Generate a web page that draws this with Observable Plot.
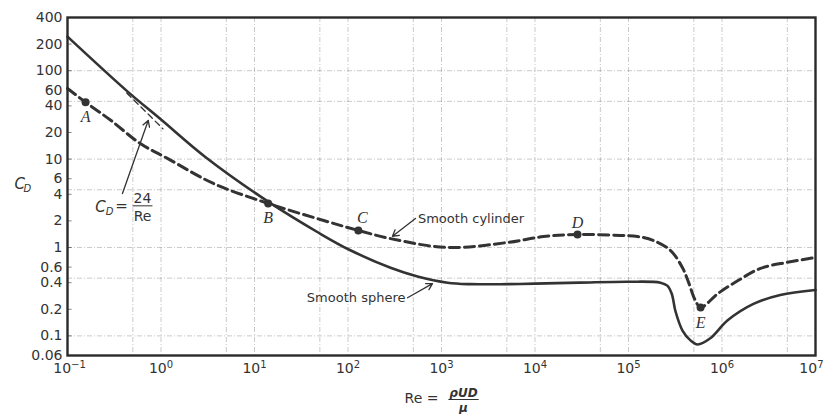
<!DOCTYPE html>
<html>
<head>
<meta charset="utf-8">
<script src="https://cdn.jsdelivr.net/npm/d3@7"></script>
<script src="https://cdn.jsdelivr.net/npm/@observablehq/plot@0.6"></script>
<style>
  html, body { margin: 0; padding: 0; background: #fff; }
</style>
</head>
<body>
<div id="chart"></div>
<script>
// ---- data ----
const xTicks = [0.1, 1, 10, 100, 1e3, 1e4, 1e5, 1e6, 1e7];
const yTicks = [400, 200, 100, 60, 40, 20, 10, 6, 4, 2, 1, 0.6, 0.4, 0.2, 0.1, 0.06];
const xGrid = [0.5, 1, 5, 10, 50, 100, 500, 1e3, 5e3, 1e4, 5e4, 1e5, 5e5, 1e6, 5e6];
const yGrid = [100, 45, 10, 4.5, 1, 0.45, 0.1];

const cylinderRe = [0.1, 0.156, 0.29, 0.6, 1.17, 3.64, 14, 55, 129, 285, 1160, 5080, 12300, 28500, 82000, 125000, 185000, 280000, 378000, 440000, 520000, 590000, 900000, 1470000, 2580000, 5000000, 1e7];
const cylinderCd = [63, 44, 27.5, 15, 10.2, 5.3, 3.15, 2.02, 1.56, 1.26, 1.0, 1.14, 1.33, 1.40, 1.37, 1.33, 1.2, 0.93, 0.59, 0.40, 0.25, 0.21, 0.30, 0.42, 0.58, 0.68, 0.77];

const sphereRe = [0.1, 0.44, 1, 3, 14, 50, 106, 285, 554, 1160, 2000, 5000, 1e4, 3e4, 1e5, 2.2e5, 2.6e5, 2.9e5, 3.18e5, 3.78e5, 4.6e5, 5.47e5, 7.5e5, 1.15e6, 2.17e6, 4.2e6, 1e7];
const sphereCd = [243, 58, 28, 10.5, 3.3, 1.44, 0.93, 0.59, 0.47, 0.40, 0.385, 0.385, 0.39, 0.40, 0.41, 0.40, 0.37, 0.30, 0.19, 0.115, 0.089, 0.08, 0.094, 0.15, 0.23, 0.29, 0.33];

const stokesRe = [0.43, 1.05];
const stokesCd = [56, 22];

const pointLabels = ["A", "B", "C", "D", "E"];
const pointRe = [0.156, 14, 129, 28500, 590000];
const pointCd = [44, 3.15, 1.56, 1.40, 0.21];

// annotation pointers: tail (Re, CD) -> head (Re, CD)
const pointerNames = ["formula", "cylinder", "sphere"];
const pointerRe1 = [0.387, 527, 433];
const pointerCd1 = [4.08, 2.13, 0.27];
const pointerRe2 = [0.73, 299, 801];
const pointerCd2 = [27.4, 1.34, 0.39];

const curveLabels = ["Smooth cylinder", "Smooth sphere"];
const curveLabelRe = [560, 412];
const curveLabelCd = [2.13, 0.27];

const formulaAnchorRe = 0.634;
const formulaAnchorCd = 2.92;

// ---- build tables ----
const cylinder = cylinderRe.map((re, i) => ({re, cd: cylinderCd[i]}));
const sphere = sphereRe.map((re, i) => ({re, cd: sphereCd[i]}));
const stokes = stokesRe.map((re, i) => ({re, cd: stokesCd[i]}));
const points = pointLabels.map((label, i) => ({label, re: pointRe[i], cd: pointCd[i]}));
const pointers = pointerNames.map((name, i) => ({name, x1: pointerRe1[i], y1: pointerCd1[i], x2: pointerRe2[i], y2: pointerCd2[i]}));
const labels = curveLabels.map((text, i) => ({text, re: curveLabelRe[i], cd: curveLabelCd[i]}));
const formula = [{re: formulaAnchorRe, cd: formulaAnchorCd}];

const ink = "#333";
const gridStyle = {stroke: "#6a6a6a", strokeWidth: 0.8, strokeDasharray: "5,2,1,2", strokeOpacity: 0.45};
const letterOffsets = {A: [0, 15], B: [0, 14], C: [4, -13], D: [0, -12], E: [0, 15]};
const serif = "Liberation Serif, DejaVu Serif, serif";
const sans = "DejaVu Sans, sans-serif";
const expFormat = d => "10^" + Math.round(Math.log10(d));

const letterMarks = points.map(p => Plot.text([p], {
  x: "re", y: "cd", text: "label",
  dx: letterOffsets[p.label][0], dy: letterOffsets[p.label][1],
  fontFamily: serif, fontStyle: "italic", fontSize: 16, fill: ink
}));

const chart = Plot.plot({
  width: 823,
  height: 414,
  marginLeft: 67,
  marginRight: 8,
  marginTop: 17,
  marginBottom: 59,
  x: {type: "log", domain: [0.1, 1e7], label: null, axis: null},
  y: {type: "log", domain: [0.06, 400], label: null, axis: null},
  style: {fontFamily: sans, fontSize: "14px", color: ink, background: "#fff", overflow: "visible"},
  marks: [
    Plot.ruleX(xGrid, gridStyle),
    Plot.ruleY(yGrid, gridStyle),
    Plot.ruleY(yTicks, {x1: 0.1, x2: 0.112, stroke: ink, strokeOpacity: 0.6}),
    // y tick labels
    Plot.text(yTicks, {y: d => d, frameAnchor: "left", text: d => String(d), textAnchor: "end", dx: -5, fontSize: 14, fill: ink}),
    // x tick labels
    Plot.text(xTicks.slice(0, 1), {x: d => d, frameAnchor: "bottom", text: expFormat, lineAnchor: "top", dx: 2, dy: 8, fontSize: 14, fill: ink}),
    Plot.text(xTicks.slice(1, -1), {x: d => d, frameAnchor: "bottom", text: expFormat, lineAnchor: "top", dy: 8, fontSize: 14, fill: ink}),
    Plot.text(xTicks.slice(-1), {x: d => d, frameAnchor: "bottom", text: expFormat, lineAnchor: "top", textAnchor: "end", dx: 8, dy: 8, fontSize: 14, fill: ink}),
    Plot.line(stokes, {x: "re", y: "cd", stroke: ink, strokeWidth: 1.3, strokeDasharray: "6,4"}),
    Plot.line(cylinder, {x: "re", y: "cd", stroke: ink, strokeWidth: 3, strokeDasharray: "10,5", curve: "catmull-rom"}),
    Plot.line(sphere, {x: "re", y: "cd", stroke: ink, strokeWidth: 2.6, curve: "catmull-rom"}),
    Plot.dot(points, {x: "re", y: "cd", r: 4, fill: ink}),
    ...letterMarks,
    Plot.arrow(pointers, {x1: "x1", y1: "y1", x2: "x2", y2: "y2", stroke: ink, strokeWidth: 1.3, headLength: 8}),
    Plot.text(labels.slice(0, 1), {x: "re", y: "cd", text: "text", textAnchor: "start", fontSize: 13, fill: ink}),
    Plot.text(labels.slice(1), {x: "re", y: "cd", text: "text", textAnchor: "end", fontSize: 13, fill: ink}),
    // C_D = 24 / Re formula
    Plot.text(formula, {x: "re", y: "cd", text: () => "C", dx: -42, dy: 1, fontStyle: "italic", fontSize: 15, fill: ink}),
    Plot.text(formula, {x: "re", y: "cd", text: () => "D", dx: -33, dy: 5, fontStyle: "italic", fontSize: 10, fill: ink}),
    Plot.text(formula, {x: "re", y: "cd", text: () => "=", dx: -21, dy: 0, fontSize: 15, fill: ink}),
    Plot.text(formula, {x: "re", y: "cd", text: () => "24", dy: -8, fontSize: 14, fill: ink}),
    Plot.text(formula, {x: "re", y: "cd", text: () => "Re", dy: 10, fontSize: 14, fill: ink}),
    // y-axis title C_D
    Plot.text(["C"], {frameAnchor: "left", text: d => d, dx: -53, dy: -2, fontStyle: "italic", fontSize: 15, fill: ink}),
    Plot.text(["D"], {frameAnchor: "left", text: d => d, dx: -44, dy: 2, fontStyle: "italic", fontSize: 10, fill: ink}),
    // x-axis title Re = ρUD/μ
    Plot.text(["Re ="], {frameAnchor: "bottom", text: d => d, dx: -20, dy: 47, fontSize: 14, fill: ink}),
    Plot.text(["ρUD"], {frameAnchor: "bottom", text: d => d, dx: 22, dy: 41, fontStyle: "italic", fontWeight: "bold", fontSize: 12, fill: ink}),
    Plot.text(["μ"], {frameAnchor: "bottom", text: d => d, dx: 22, dy: 56, fontStyle: "italic", fontWeight: "bold", fontSize: 12, fill: ink}),
    Plot.frame({stroke: "#2a2a2a", strokeWidth: 2.4})
  ]
});

document.getElementById("chart").appendChild(chart);

const allText = d3.select(chart).selectAll("text");

// superscript exponents on x tick labels
allText.filter(function() { return this.textContent.startsWith("10^"); }).each(function() {
  const t = this.textContent;
  const e = t.slice(3).replace("-", "\u2212");
  const sel = d3.select(this);
  sel.text(null);
  sel.append("tspan").text("10");
  sel.append("tspan").attr("dy", "-0.55em").attr("font-size", "10px").text(e);
});

// fraction bars under numerators
allText.filter(function() { return this.textContent === "24" || this.textContent === "ρUD"; }).each(function() {
  const b = this.getBBox();
  const m = this.getCTM();
  const x0 = b.x * m.a + m.e, x1 = (b.x + b.width) * m.a + m.e;
  const y = (b.y + b.height) * m.d + m.f;
  d3.select(chart).append("line")
    .attr("x1", x0 - 1).attr("x2", x1 + 1).attr("y1", y).attr("y2", y)
    .attr("stroke", ink).attr("stroke-width", 1);
});
</script>
</body>
</html>
